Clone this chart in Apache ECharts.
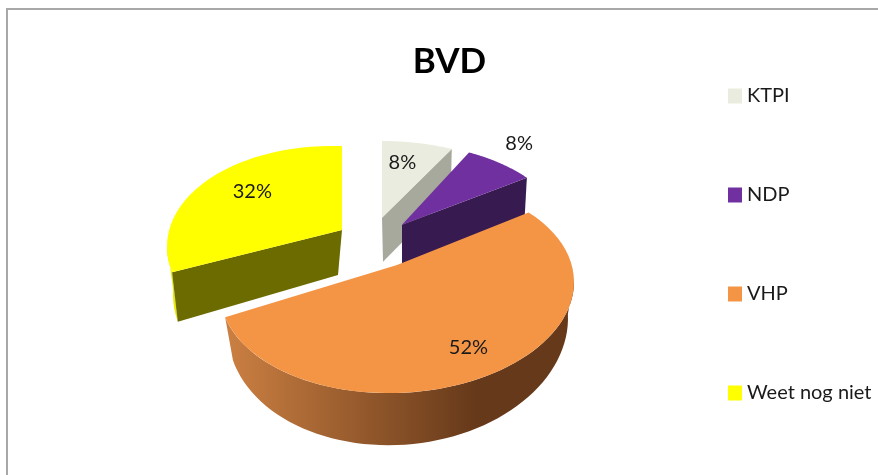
<!DOCTYPE html>
<html><head><meta charset="utf-8">
<style>html,body{margin:0;padding:0;background:#fff}#c{width:878px;height:475px}</style>
<script src="https://cdn.jsdelivr.net/npm/echarts@6/dist/echarts.min.js"></script>
</head><body><div id="c"></div>
<script>
const titleText = 'BVD';
const names = ['KTPI', 'NDP', 'VHP', 'Weet nog niet'];
const values = [8, 8, 52, 32];
const colors = ['#e9ecdf', '#7030a0', '#f49546', '#ffff00'];
const faceColors = ['#a6a99b', '#371a50', null, '#6b6b00'];

// Look of each exploded slice in the tilted view: top and bottom rim ellipses
const K = 0.81;
const FONT = 'Lato, "Open Sans", sans-serif';
const rims = [
  {top:{cx:382,cy:238,rx:175,ry:97,s:0},     bot:{cx:383,cy:282,rx:170,ry:97,s:0},      face:'end',   lab:0.66, nudge:[-3,-6]},
  {top:{cx:402,cy:246,rx:168,ry:102,s:0},    bot:{cx:402,cy:286,rx:165,ry:102,s:0},     face:'end',   lab:1.25, nudge:[-5,-4]},
  {top:{cx:397,cy:287,rx:177,ry:106,s:-0.028},bot:{cx:398,cy:325,rx:170,ry:120,s:-0.04},face:null,    lab:0.73, nudge:[-3,5]},
  {top:{cx:342,cy:252,rx:175,ry:106,s:0.03}, bot:{cx:338,cy:299,rx:165,ry:115,s:0.03},  face:'start', lab:0.72, nudge:[4,0]}
];

const total = values.reduce((a, b) => a + b, 0);
const D = Math.PI / 180;
function toParam(deg) {               // true pie angle -> ellipse parameter under perspective
  const turns = Math.floor((deg + 180) / 360);
  const d = deg - turns * 360;
  if (Math.abs(d) >= 179.999) return deg * D;
  return 2 * Math.atan(K * Math.tan(d * D / 2)) + turns * 2 * Math.PI;
}
function onRim(e, t) {
  const dx = e.rx * Math.sin(t);
  return [e.cx + dx, e.cy - e.ry * Math.cos(t) + e.s * dx];
}
function apexOf(e) { return [e.cx, e.cy - e.ry * (1 - K * K) / (1 + K * K)]; }
function arc(e, t0, t1) {
  const n = 60, out = [];
  for (let i = 0; i <= n; i++) out.push(onRim(e, t0 + (t1 - t0) * i / n));
  return out;
}
function poly(points, fill) {
  return {type: 'polygon', shape: {points}, style: {fill, stroke: null}};
}

function renderSlice(params, api) {
  const i = params.seriesIndex;
  const value = api.value(0);
  let before = 0;
  for (let j = 0; j < i; j++) before += values[j];
  const a0 = before / total * 360, a1 = a0 + value / total * 360;
  const t0 = toParam(a0), t1 = toParam(a1);
  const r = rims[i];
  const children = [];
  const A = apexOf(r.top), B = apexOf(r.bot);

  // outer wall, only the part that faces the viewer
  const w0 = Math.max(t0, 88 * D), w1 = Math.min(t1, 272 * D);
  if (i === 2) {
    children.push({type: 'polygon',
      shape: {points: arc(r.top, w0, w1).concat(arc(r.bot, w1, w0))},
      style: {fill: new echarts.graphic.LinearGradient(0, 0, 1, 0, [
        {offset: 0, color: '#cc8042'}, {offset: 0.72, color: '#66391a'}, {offset: 1, color: '#66391a'}
      ])}});
  }
  if (i === 3) {
    const lo = -104 * D, hi = -88 * D;
    children.push(poly(arc(r.top, lo, hi).concat(arc(r.bot, hi, lo)), '#e8e800'));
  }
  // cut face
  if (r.face) {
    const t = r.face === 'end' ? t1 : t0;
    children.push(poly([A, onRim(r.top, t), onRim(r.bot, t), B], faceColors[i]));
  }
  // top surface
  children.push(poly([A].concat(arc(r.top, t0, t1)), colors[i]));
  // label
  const m = toParam((a0 + a1) / 2), p = onRim(r.top, m);
  children.push({type: 'text', z2: 10, style: {
    text: value + '%',
    x: A[0] + (p[0] - A[0]) * r.lab + r.nudge[0], y: A[1] + (p[1] - A[1]) * r.lab + r.nudge[1],
    align: 'center', verticalAlign: 'middle',
    fontFamily: FONT, fontSize: 20, fill: '#1a1a1a'}});
  return {type: 'group', children};
}

const chart = echarts.init(document.getElementById('c'), null, {renderer: 'canvas'});
chart.setOption({
  animation: false,
  backgroundColor: '#fff',
  title: {text: titleText, left: 449.5, top: 44, padding: 0, textAlign: 'center',
    textStyle: {fontFamily: FONT, fontSize: 35, fontWeight: 'bold', color: '#000'}},
  legend: {orient: 'vertical', left: 728, top: 86, padding: 0, itemWidth: 14, itemHeight: 15, itemGap: 79, icon: 'rect',
    data: names, selectedMode: false,
    textStyle: {fontFamily: FONT, fontSize: 20, color: '#1a1a1a'}},
  graphic: [{type: 'polyline', shape: {points: [[7, 475], [7, 9], [878, 9]]}, silent: true,
    style: {stroke: '#a8a8a8', lineWidth: 2, fill: null}}],
  series: names.map((name, i) => ({
    type: 'custom', name, coordinateSystem: 'none', renderItem: renderSlice,
    itemStyle: {color: colors[i]}, data: [[values[i]]], silent: true
  }))
});
</script></body></html>
